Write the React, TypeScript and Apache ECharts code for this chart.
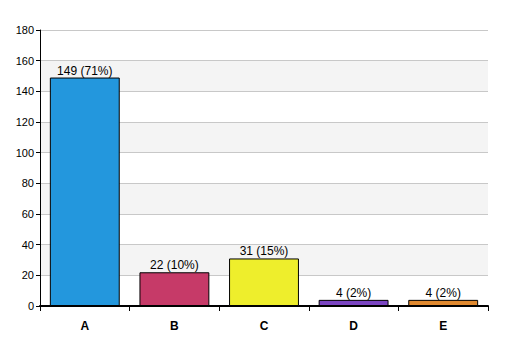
import React, { useEffect, useRef } from "react";
import * as echarts from "echarts";

const categories = ["A", "B", "C", "D", "E"];
const values = [149, 22, 31, 4, 4];
const percents = ["71%", "10%", "15%", "2%", "2%"];
const colors = ["#2397dd", "#c63a68", "#eeee2c", "#7b45c2", "#e0892f"];

export default function App() {
  const ref = useRef<HTMLDivElement>(null);
  useEffect(() => {
    const chart = echarts.init(ref.current!, null, { renderer: "svg" });
    chart.setOption({
      animation: false,
      backgroundColor: "#fff",
      grid: { left: 40, right: 19, top: 30, bottom: 50, containLabel: false },
      xAxis: {
        type: "category",
        data: categories,
        axisLine: { lineStyle: { color: "#000", width: 2 } },
        axisTick: { show: true, alignWithLabel: false, length: 5, lineStyle: { color: "#000" } },
        axisLabel: { color: "#000", fontWeight: "bold", fontSize: 12, fontFamily: "Liberation Sans, Arial", margin: 14 },
      },
      yAxis: {
        type: "value",
        min: 0,
        max: 180,
        interval: 20,
        axisLine: { show: true, lineStyle: { color: "#000", width: 1 } },
        axisTick: { show: true, length: 4, lineStyle: { color: "#000" } },
        axisLabel: { color: "#000", fontSize: 11, fontFamily: "Liberation Sans, Arial", margin: 6 },
        splitLine: { show: true, lineStyle: { color: "#c8c8c8" } },
        splitArea: { show: true, areaStyle: { color: ["#ffffff", "#f4f4f4"] } },
      },
      series: [
        {
          type: "bar",
          barCategoryGap: "22%",
          data: values.map((v, i) => ({
            value: v,
            itemStyle: { color: colors[i], borderColor: "#000", borderWidth: 1 },
          })),
          label: {
            show: true,
            position: "top",
            distance: 1,
            color: "#000",
            fontSize: 12,
            fontFamily: "Liberation Sans, Arial",
            formatter: (p: any) => `${p.value} (${percents[p.dataIndex]})`,
          },
        },
      ],
    });
    return () => chart.dispose();
  }, []);
  return <div ref={ref} style={{ width: 507, height: 356, position: "absolute", left: 0, top: 0 }} />;
}
